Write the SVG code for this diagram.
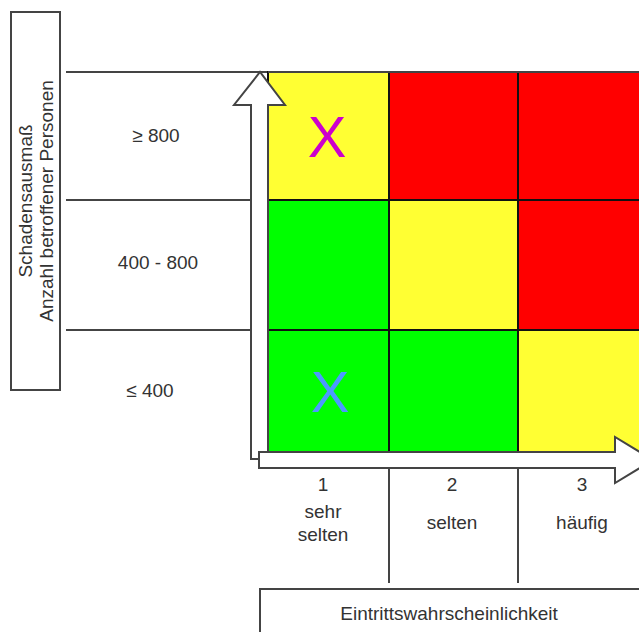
<svg xmlns="http://www.w3.org/2000/svg" width="639" height="632" viewBox="0 0 639 632">
<style>
text{font-family:"Liberation Sans",Arial,sans-serif;font-size:19px;fill:#333;text-anchor:middle}
.ln{stroke:#444;stroke-width:2;fill:none}
.cell{stroke:#111;stroke-width:2}
.y{fill:#FFFF33}.r{fill:#FF0000}.g{fill:#00FF00}
.arr{fill:#fff;stroke:#444;stroke-width:2;stroke-linejoin:miter}
.box{fill:#fff;stroke:#444;stroke-width:2}
.x{font-size:58px;font-family:"Liberation Sans",Arial,sans-serif}
</style>
<g id="y-axis-label">
<rect class="box" x="11" y="12" width="49" height="378"/>
<text transform="translate(32,201) rotate(-90)">Schadensausmaß</text>
<text transform="translate(53,201) rotate(-90)">Anzahl betroffener Personen</text>
</g>
<g id="row-lines">
<line class="ln" x1="66" y1="72" x2="639" y2="72"/>
<line class="ln" x1="66" y1="200" x2="252" y2="200"/>
<line class="ln" x1="66" y1="330" x2="252" y2="330"/>
</g>
<g id="row-labels">
<text x="156" y="142">≥ 800</text>
<text x="158" y="269">400 - 800</text>
<text x="150" y="397">≤ 400</text>
</g>
<g id="grid">
<rect class="cell y" x="268" y="72" width="121" height="128"/>
<rect class="cell r" x="389" y="72" width="129" height="128"/>
<rect class="cell r" x="518" y="72" width="130" height="128"/>
<rect class="cell g" x="268" y="200" width="121" height="130"/>
<rect class="cell y" x="389" y="200" width="129" height="130"/>
<rect class="cell r" x="518" y="200" width="130" height="130"/>
<rect class="cell g" x="268" y="330" width="121" height="122"/>
<rect class="cell g" x="389" y="330" width="129" height="122"/>
<rect class="cell y" x="518" y="330" width="130" height="122"/>
<line class="ln" x1="268" y1="72" x2="639" y2="72"/>
</g>
<g id="marks">
<text class="x" x="327" y="157" style="fill:#CC00CC">X</text>
<text class="x" x="330" y="412" style="fill:#4C99FF">X</text>
</g>
<g id="connectors">
<polygon id="y-arrow" class="arr" points="251,459 251,105 234,105 260,72 285,105 268,105 268,459"/>
<polygon id="x-arrow" class="arr" points="259,452 615,452 615,437 653,460 615,483 615,468 259,468"/>
</g>
<g id="col-lines">
<line class="ln" x1="389" y1="468" x2="389" y2="583"/>
<line class="ln" x1="518" y1="468" x2="518" y2="583"/>
</g>
<g id="col-labels">
<text x="323" y="491">1</text>
<text x="323" y="518">sehr</text>
<text x="323" y="541">selten</text>
<text x="452" y="491">2</text>
<text x="452" y="529">selten</text>
<text x="582" y="491">3</text>
<text x="582" y="529">häufig</text>
</g>
<g id="x-axis-label">
<rect class="box" x="260" y="589" width="400" height="60"/>
<text x="449" y="620">Eintrittswahrscheinlichkeit</text>
</g>
</svg>
